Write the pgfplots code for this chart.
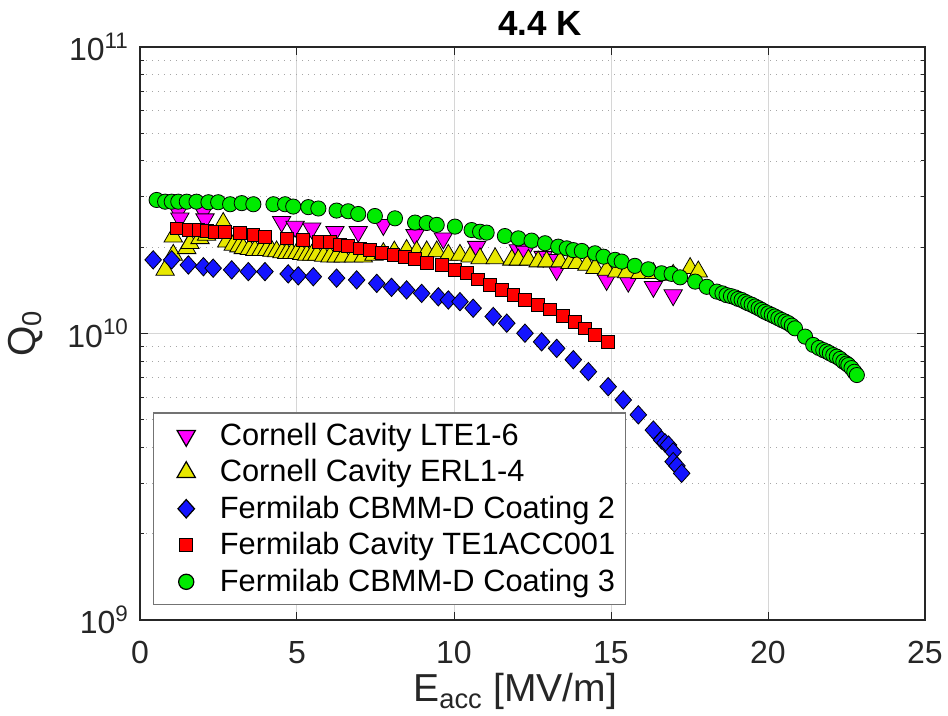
\documentclass[border=0pt]{standalone}
\usepackage{fontspec}
\setmainfont{Liberation Sans}
\usepackage{pgfplots}
\pgfplotsset{compat=1.18}

\definecolor{cMag}{RGB}{255,0,255}
\definecolor{cYel}{RGB}{232,232,0}
\definecolor{cBlu}{RGB}{20,20,255}
\definecolor{cRed}{RGB}{255,0,0}
\definecolor{cGrn}{RGB}{0,235,0}
\definecolor{axgray}{RGB}{38,38,38}

\begin{document}
\begin{tikzpicture}
\useasboundingbox (-70pt,-48pt) rectangle (404pt,310pt);
\begin{axis}[
  scale only axis,
  width=392.5pt, height=286.5pt,
  ymode=log,
  xmin=0, xmax=25, ymin=1e9, ymax=1e11,
  xtick={0,5,10,15,20,25},
  ytick={1e9,1e10,1e11},
  yticklabels={10\textsuperscript{9},10\textsuperscript{10},10\textsuperscript{11}},
  /pgf/number format/assume math mode=true,
  tick align=inside,
  major tick length=4pt, minor tick length=2.2pt,
  axis line style={axgray, line width=0.6pt},
  every tick/.style={axgray, line width=0.5pt},
  xmajorgrids, ymajorgrids, yminorgrids,
  major grid style={black!16, line width=0.5pt},
  minor grid style={black!35, line width=0.45pt, dash pattern=on 0.7pt off 2.3pt},
  tick label style={font=\fontsize{16}{19}\selectfont, text=axgray},
  xticklabel style={anchor=base, yshift=-22pt},
  yticklabel style={xshift=-2pt},
  every axis title shift=0pt,
  title={\textbf{4.4 K}},
  title style={font=\fontsize{17.5}{21}\selectfont, at={(axis description cs:0.51,1)}, anchor=base, yshift=5.5pt},
  xlabel={E\textsubscript{acc} [MV/m]},
  xlabel style={font=\fontsize{19.5}{23}\selectfont, text=axgray, at={(axis description cs:0.478,-0.1431)}, anchor=base},
  ylabel={Q\textsubscript{0}},
  ylabel style={font=\fontsize{19.5}{23}\selectfont, text=axgray, at={(axis description cs:-0.146,0.5)}, anchor=center},
  legend cell align=left,
  legend image code/.code={%
    \path (-13pt,0pt) (14.5pt,0pt);
    \draw[only marks,#1] plot coordinates {(0pt,0pt)};},
  legend style={at={(axis description cs:0.0166,0.026)}, anchor=south west,
    font=\fontsize{15.4}{18}\selectfont, draw=black!55, line width=0.6pt, fill=white,
    inner xsep=3pt, inner ysep=3pt, row sep=1.6pt},
  every axis plot/.append style={only marks, mark options={draw=black, line width=0.5pt}},
]

% Cornell Cavity LTE1-6
\addplot[mark=triangle*, mark size=5.3pt, mark options={fill=cMag, rotate=180}] coordinates {
(1.22,2.661e10) (1.27,2.523e10) (2.02,2.661e10) (2.07,2.506e10) (4.51,2.455e10)
(4.94,2.360e10) (5.47,2.328e10) (6.21,2.265e10) (6.95,2.265e10) (7.75,2.393e10)
(8.76,2.208e10) (9.66,2.148e10) (10.72,2.009e10) (12.05,1.954e10) (12.26,1.932e10)
(12.84,1.854e10) (13.16,1.807e10) (13.27,1.667e10) (14.86,1.538e10) (15.55,1.517e10)
(16.35,1.455e10) (16.98,1.361e10)
};
\addlegendentry{Cornell Cavity LTE1-6}

% Cornell Cavity ERL1-4
\addplot[mark=triangle*, mark size=5.3pt, mark options={fill=cYel}] coordinates {
(0.80,1.667e10) (1.06,1.879e10) (1.06,2.178e10) (1.49,1.982e10) (1.59,2.065e10)
(1.91,2.148e10) (2.12,2.208e10) (2.65,2.427e10) (2.76,2.089e10) (2.97,2.037e10)
(3.15,2.010e10) (3.29,1.982e10) (3.48,1.968e10) (3.66,1.954e10) (3.85,1.954e10)
(4.03,1.954e10) (4.20,1.940e10) (4.35,1.932e10) (4.52,1.918e10) (4.67,1.905e10)
(4.83,1.905e10) (4.99,1.905e10) (5.15,1.890e10) (5.31,1.879e10) (5.47,1.879e10)
(5.63,1.879e10) (5.85,1.866e10) (6.05,1.854e10) (6.25,1.854e10) (6.47,1.854e10)
(6.80,1.854e10) (7.11,1.854e10) (7.45,1.880e10) (7.75,1.905e10) (8.10,1.930e10)
(8.49,1.954e10) (8.81,1.932e10) (9.13,1.932e10) (9.45,1.932e10) (9.82,1.879e10)
(10.19,1.879e10) (10.51,1.854e10) (10.83,1.828e10) (11.31,1.828e10) (11.84,1.807e10)
(12.05,1.807e10) (12.37,1.807e10) (12.68,1.782e10) (12.95,1.782e10) (13.38,1.782e10)
(13.69,1.758e10) (13.91,1.758e10) (14.23,1.734e10) (14.49,1.690e10) (14.86,1.667e10)
(15.18,1.644e10) (15.50,1.633e10) (15.92,1.622e10) (16.35,1.622e10) (16.98,1.600e10)
(17.52,1.690e10) (17.78,1.644e10)
};
\addlegendentry{Cornell Cavity ERL1-4}

% Fermilab CBMM-D Coating 2
\addplot[mark=diamond*, mark size=4.6pt, mark options={fill=cBlu, xscale=1.2}] coordinates {
(0.42,1.807e10) (1.01,1.807e10) (1.54,1.734e10) (2.02,1.710e10) (2.33,1.690e10)
(2.92,1.667e10) (3.45,1.644e10) (3.98,1.644e10) (4.72,1.614e10) (5.04,1.589e10)
(5.52,1.578e10) (6.26,1.560e10) (6.90,1.538e10) (7.54,1.496e10) (8.01,1.449e10)
(8.49,1.419e10) (8.97,1.380e10) (9.50,1.343e10) (9.82,1.309e10) (10.19,1.291e10)
(10.61,1.225e10) (11.25,1.146e10) (11.68,1.086e10) (12.26,1.002e10) (12.79,9.35e9)
(13.27,8.87e9) (13.80,8.10e9) (14.28,7.36e9) (14.91,6.52e9) (15.39,5.86e9)
(15.87,5.20e9) (16.35,4.60e9) (16.61,4.25e9) (16.72,4.15e9) (16.83,4.08e9)
(16.98,3.86e9) (16.98,3.57e9) (17.10,3.45e9) (17.25,3.25e9)
};
\addlegendentry{Fermilab CBMM-D Coating 2}

% Fermilab Cavity TE1ACC001
\addplot[mark=square*, mark size=3.2pt, mark options={fill=cRed}] coordinates {
(1.17,2.328e10) (1.54,2.296e10) (1.86,2.296e10) (2.12,2.280e10) (2.39,2.265e10)
(2.71,2.265e10) (3.18,2.239e10) (3.61,2.208e10) (3.98,2.178e10) (4.67,2.148e10)
(5.20,2.118e10) (5.68,2.089e10) (6.05,2.089e10) (6.37,2.037e10) (6.63,2.018e10)
(7.01,1.982e10) (7.32,1.954e10) (7.70,1.905e10) (8.07,1.879e10) (8.44,1.845e10)
(8.76,1.816e10) (9.13,1.766e10) (9.61,1.734e10) (10.03,1.667e10) (10.40,1.622e10)
(10.77,1.545e10) (11.15,1.476e10) (11.52,1.419e10) (11.89,1.361e10) (12.26,1.309e10)
(12.68,1.256e10) (13.06,1.213e10) (13.48,1.151e10) (13.85,1.099e10) (14.17,1.042e10)
(14.49,9.89e9) (14.91,9.35e9)
};
\addlegendentry{Fermilab Cavity TE1ACC001}

% Fermilab CBMM-D Coating 3
\addplot[mark=*, mark size=3.8pt, mark options={fill=cGrn}] coordinates {
(0.53,2.924e10) (0.80,2.884e10) (1.01,2.884e10) (1.22,2.884e10) (1.49,2.884e10)
(1.80,2.884e10) (2.18,2.871e10) (2.49,2.871e10) (2.87,2.825e10) (3.24,2.850e10)
(3.61,2.825e10) (4.25,2.825e10) (4.62,2.825e10) (4.88,2.773e10) (5.36,2.760e10)
(5.68,2.730e10) (6.26,2.685e10) (6.63,2.670e10) (6.95,2.612e10) (7.48,2.570e10)
(8.12,2.523e10) (8.76,2.438e10) (9.13,2.430e10) (9.45,2.393e10) (10.03,2.360e10)
(10.56,2.296e10) (10.83,2.265e10) (11.04,2.249e10) (11.62,2.188e10) (12.05,2.148e10)
(12.47,2.109e10) (12.90,2.065e10) (13.32,2.009e10) (13.59,1.982e10) (13.80,1.954e10)
(14.07,1.941e10) (14.49,1.905e10) (14.76,1.854e10) (15.13,1.807e10) (15.34,1.782e10)
(15.76,1.722e10) (16.19,1.675e10) (16.61,1.622e10) (16.93,1.614e10) (17.20,1.570e10)
(17.68,1.517e10) (18.05,1.455e10) (18.37,1.400e10) (18.55,1.380e10) (18.68,1.361e10)
(18.82,1.350e10) (18.95,1.337e10) (19.05,1.320e10) (19.16,1.309e10) (19.27,1.290e10)
(19.37,1.274e10) (19.48,1.260e10) (19.59,1.242e10) (19.70,1.225e10) (19.80,1.208e10)
(19.90,1.190e10) (20.01,1.175e10) (20.12,1.160e10) (20.22,1.146e10) (20.33,1.130e10)
(20.44,1.114e10) (20.55,1.100e10) (20.65,1.086e10) (20.76,1.065e10) (20.86,1.042e10)
(21.18,9.75e9) (21.44,9.12e9) (21.62,8.90e9) (21.76,8.75e9) (21.87,8.65e9)
(21.97,8.53e9) (22.08,8.40e9) (22.19,8.30e9) (22.30,8.15e9) (22.40,7.98e9)
(22.50,7.85e9) (22.56,7.76e9) (22.66,7.57e9) (22.75,7.35e9) (22.83,7.16e9)
};
\addlegendentry{Fermilab CBMM-D Coating 3}

\end{axis}
\end{tikzpicture}
\end{document}
